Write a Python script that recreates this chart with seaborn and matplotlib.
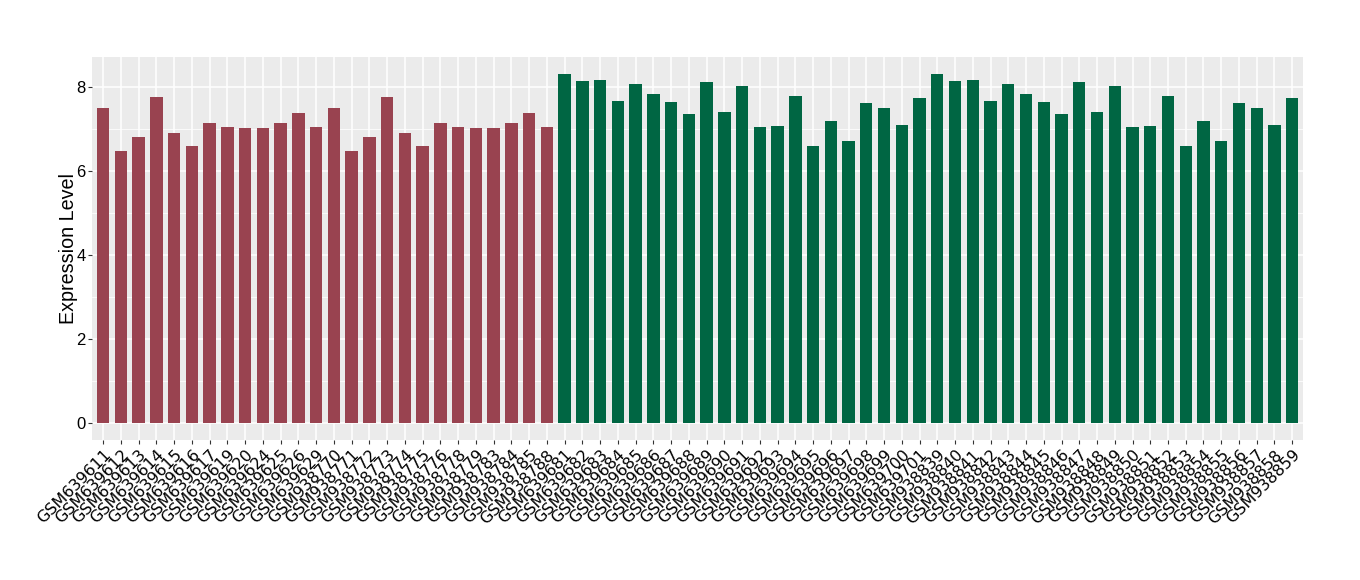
import pandas as pd
import matplotlib.pyplot as plt
import seaborn as sns
from matplotlib.ticker import MultipleLocator

# sample ids
red_samples = ['GSM639611', 'GSM639612', 'GSM639613', 'GSM639614', 'GSM639615', 'GSM639616',
               'GSM639617', 'GSM639619', 'GSM639620', 'GSM639624', 'GSM639625', 'GSM639626',
               'GSM639629', 'GSM938770', 'GSM938771', 'GSM938772', 'GSM938773', 'GSM938774',
               'GSM938775', 'GSM938776', 'GSM938778', 'GSM938779', 'GSM938783', 'GSM938784',
               'GSM938785', 'GSM938788']
green_samples = ['GSM639681', 'GSM639682', 'GSM639683', 'GSM639684', 'GSM639685', 'GSM639686',
                 'GSM639687', 'GSM639688', 'GSM639689', 'GSM639690', 'GSM639691', 'GSM639692',
                 'GSM639693', 'GSM639694', 'GSM639695', 'GSM639696', 'GSM639697', 'GSM639698',
                 'GSM639699', 'GSM639700', 'GSM639701', 'GSM938839', 'GSM938840', 'GSM938841',
                 'GSM938842', 'GSM938843', 'GSM938844', 'GSM938845', 'GSM938846', 'GSM938847',
                 'GSM938848', 'GSM938849', 'GSM938850', 'GSM938851', 'GSM938852', 'GSM938853',
                 'GSM938854', 'GSM938855', 'GSM938856', 'GSM938857', 'GSM938858', 'GSM938859']

# expression values
red_values = [7.50, 6.48, 6.81, 7.76, 6.90, 6.59, 7.14, 7.05, 7.02, 7.02, 7.14, 7.38, 7.05,
              7.50, 6.48, 6.81, 7.76, 6.90, 6.59, 7.14, 7.05, 7.02, 7.02, 7.14, 7.38, 7.05]
green_values = [8.31, 8.14, 8.17, 7.67, 8.07, 7.83, 7.64, 7.36, 8.10, 7.40, 8.02, 7.05, 7.07,
                7.79, 6.60, 7.19, 6.71, 7.62, 7.50, 7.10, 7.74,
                8.31, 8.14, 8.17, 7.67, 8.07, 7.83, 7.64, 7.36, 8.10, 7.40, 8.02, 7.05, 7.07,
                7.79, 6.60, 7.19, 6.71, 7.62, 7.50, 7.10, 7.74]

df = pd.DataFrame({
    'sample': red_samples + green_samples,
    'value': red_values + green_values,
    'group': ['red'] * len(red_samples) + ['green'] * len(green_samples),
})

plt.rcParams['font.family'] = ['Liberation Sans', 'DejaVu Sans']

fig = plt.figure(figsize=(13.6, 5.8), dpi=100)
ax = fig.add_axes([0.068, 0.241, 0.890, 0.661])

sns.barplot(data=df, x='sample', y='value', hue='group', order=df['sample'],
            palette={'red': '#994350', 'green': '#006643'}, dodge=False,
            width=0.7, saturation=1, legend=False, ax=ax)

# ggplot-like panel
ax.set_facecolor('#EBEBEB')
ax.set_axisbelow(True)
for s in ax.spines.values():
    s.set_visible(False)
ax.yaxis.set_major_locator(MultipleLocator(2))
ax.yaxis.set_minor_locator(MultipleLocator(1))
ax.grid(which='major', color='white', linewidth=1.1)
ax.grid(which='minor', axis='y', color='white', linewidth=0.55)
ax.set_xlim(-0.6, len(df) - 0.4)
ax.set_ylim(-0.41, 8.71)

ax.tick_params(axis='both', which='major', length=3, color='#333333', width=0.8,
               labelcolor='black', pad=2)
ax.tick_params(axis='y', which='minor', length=0)
ax.tick_params(axis='y', labelsize=12)
plt.setp(ax.get_xticklabels(), rotation=45, ha='right', rotation_mode='anchor',
         fontsize=11.5, family=['DejaVu Sans'])

ax.set_xlabel('')
ax.set_ylabel('Expression Level', fontsize=14.2, labelpad=-1)

fig.savefig('out.png', dpi=100)
